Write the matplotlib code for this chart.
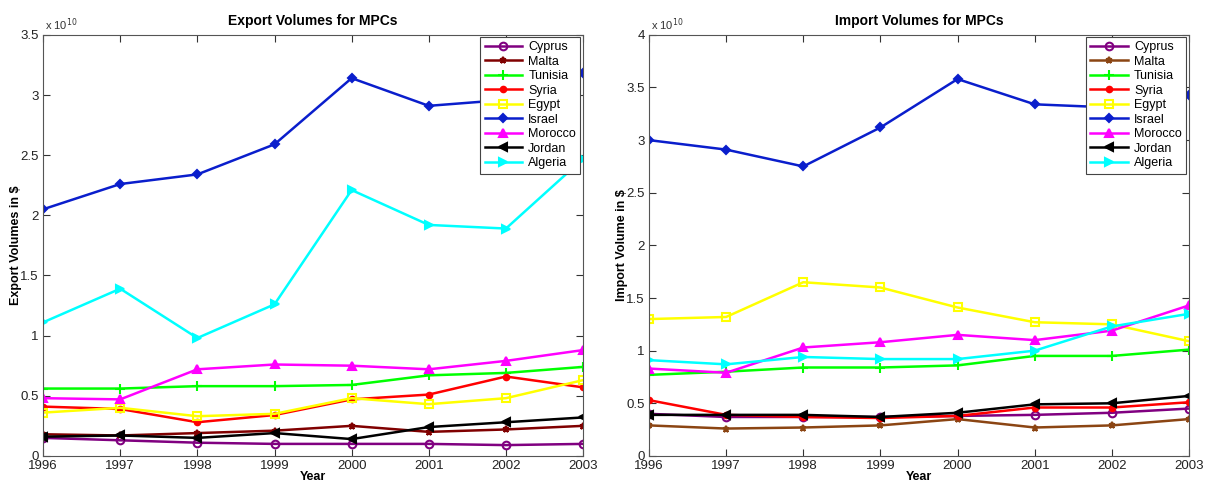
import matplotlib
matplotlib.use("Agg")
import matplotlib.pyplot as plt
from matplotlib.ticker import FuncFormatter

plt.rcParams['font.family'] = ['Liberation Sans', 'DejaVu Sans']

years = [1996, 1997, 1998, 1999, 2000, 2001, 2002, 2003]
countries = ["Cyprus", "Malta", "Tunisia", "Syria", "Egypt", "Israel", "Morocco", "Jordan", "Algeria"]

# Values in units of 1e10 US$
export_cyprus  = [0.15, 0.13, 0.11, 0.10, 0.10, 0.10, 0.09, 0.10]
export_malta   = [0.18, 0.17, 0.19, 0.21, 0.25, 0.20, 0.22, 0.25]
export_tunisia = [0.56, 0.56, 0.58, 0.58, 0.59, 0.67, 0.69, 0.74]
export_syria   = [0.41, 0.39, 0.28, 0.34, 0.47, 0.51, 0.66, 0.57]
export_egypt   = [0.36, 0.40, 0.33, 0.35, 0.48, 0.43, 0.48, 0.63]
export_israel  = [2.05, 2.26, 2.34, 2.59, 3.14, 2.91, 2.96, 3.18]
export_morocco = [0.48, 0.47, 0.72, 0.76, 0.75, 0.72, 0.79, 0.88]
export_jordan  = [0.16, 0.17, 0.15, 0.19, 0.14, 0.24, 0.28, 0.32]
export_algeria = [1.11, 1.39, 0.98, 1.26, 2.21, 1.92, 1.89, 2.47]

import_cyprus  = [0.40, 0.37, 0.37, 0.37, 0.38, 0.39, 0.41, 0.45]
import_malta   = [0.29, 0.26, 0.27, 0.29, 0.35, 0.27, 0.29, 0.35]
import_tunisia = [0.77, 0.80, 0.84, 0.84, 0.86, 0.95, 0.95, 1.01]
import_syria   = [0.53, 0.39, 0.37, 0.36, 0.38, 0.46, 0.46, 0.51]
import_egypt   = [1.30, 1.32, 1.65, 1.60, 1.41, 1.27, 1.25, 1.09]
import_israel  = [3.00, 2.91, 2.75, 3.12, 3.58, 3.34, 3.31, 3.43]
import_morocco = [0.83, 0.79, 1.03, 1.08, 1.15, 1.10, 1.19, 1.43]
import_jordan  = [0.39, 0.39, 0.39, 0.37, 0.41, 0.49, 0.50, 0.57]
import_algeria = [0.91, 0.87, 0.94, 0.92, 0.92, 1.00, 1.23, 1.35]

export_series = [export_cyprus, export_malta, export_tunisia, export_syria, export_egypt,
                 export_israel, export_morocco, export_jordan, export_algeria]
import_series = [import_cyprus, import_malta, import_tunisia, import_syria, import_egypt,
                 import_israel, import_morocco, import_jordan, import_algeria]

markers = ['o', '*', '+', '.', 's', 'D', '^', '<', '>']
filled = [False, True, True, True, False, True, True, True, True]
msizes = [5.5, 4.5, 7, 8, 5.5, 4.5, 6, 6, 6]
colors_left = ['#800080', '#800000', '#00ff00', '#ff0000', '#ffff00', '#0a1ecc', '#ff00ff', '#000000', '#00ffff']
colors_right = ['#800080', '#8b4513', '#00ff00', '#ff0000', '#ffff00', '#0a1ecc', '#ff00ff', '#000000', '#00ffff']

fig = plt.figure(figsize=(12.06, 4.84), dpi=100)
ax1 = fig.add_axes([0.0357, 0.058, 0.4478, 0.870])
ax2 = fig.add_axes([0.5381, 0.058, 0.4478, 0.870])

def draw(ax, series, colors, title, ylabel, ymax, yticks):
    for name, vals, m, f, ms, c in zip(countries, series, markers, filled, msizes, colors):
        ax.plot(years, [v * 1e10 for v in vals], color=c, marker=m, markersize=ms,
                markerfacecolor=(c if f else 'none'), markeredgecolor=c,
                markeredgewidth=1.5, linewidth=1.8, label=name)
    ax.set_xlim(1996, 2003)
    ax.set_ylim(0, ymax * 1e10)
    ax.set_xticks(years)
    ax.set_xticklabels([str(y) for y in years])
    ax.set_yticks([t * 1e10 for t in yticks])
    ax.yaxis.set_major_formatter(FuncFormatter(lambda v, p: ('%g' % round(v / 1e10, 2))))
    ax.tick_params(direction='in', top=True, right=True, labelsize=9.5, length=5, pad=3, colors='#333333', labelcolor='#222222')
    for s in ax.spines.values():
        s.set_color('#555555')
        s.set_linewidth(0.8)
    ax.set_title(title, fontsize=10, fontweight='bold', pad=7)
    ax.set_xlabel('Year', fontsize=9, fontweight='bold', labelpad=-1)
    ax.set_ylabel(ylabel, fontsize=9, fontweight='bold', labelpad=-1)
    ax.text(0.003, 1.005, r'x 10$^{10}$', transform=ax.transAxes, fontsize=8, ha='left', va='bottom', color='#333333')
    leg = ax.legend(loc='upper right', fontsize=9, fancybox=False, framealpha=1,
                    edgecolor='#444444', handlelength=3.0, labelspacing=0.2,
                    borderpad=0.35, handletextpad=0.5, borderaxespad=0.0,
                    bbox_to_anchor=(0.995, 0.995))
    leg.get_frame().set_linewidth(0.8)

draw(ax1, export_series, colors_left, 'Export Volumes for MPCs', 'Export Volumes in $', 3.5,
     [0, 0.5, 1, 1.5, 2, 2.5, 3, 3.5])
draw(ax2, import_series, colors_right, 'Import Volumes for MPCs', 'Import Volume in $', 4,
     [0, 0.5, 1, 1.5, 2, 2.5, 3, 3.5, 4])

fig.savefig('out.png', dpi=100)
